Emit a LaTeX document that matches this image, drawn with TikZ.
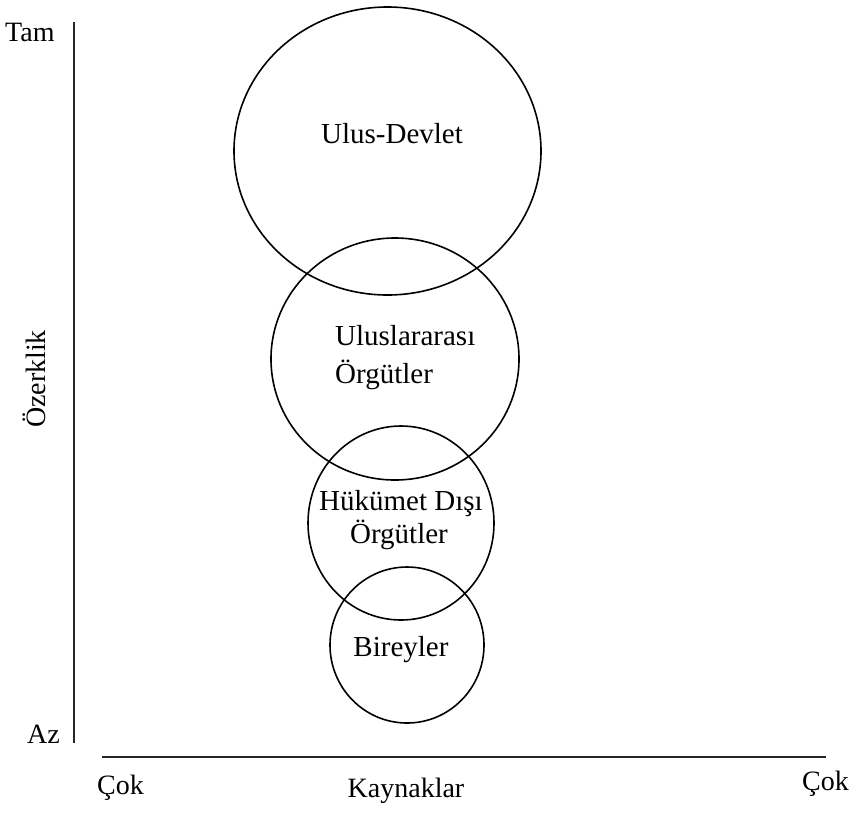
\documentclass[tikz,border=0pt]{standalone}
\usepackage{fontspec}
\setmainfont{Liberation Serif}
\begin{document}
\begin{tikzpicture}[x=1pt,y=-1pt,
  lbl/.style={inner sep=0pt,font=\fontsize{29}{33}\selectfont},
  axl/.style={inner sep=0pt,font=\fontsize{28}{32}\selectfont},
  ring/.style={line width=1.6pt,black},
  axis/.style={line width=2.6pt,black!85}]
\useasboundingbox (0,0) rectangle (856,812);
% circles
\draw[ring] (387.5,151) ellipse [x radius=153.5, y radius=144];
\draw[ring] (395,359) ellipse [x radius=124, y radius=121];
\draw[ring] (401,523) ellipse [x radius=93, y radius=97];
\draw[ring] (407,645) ellipse [x radius=77, y radius=78];
% labels in circles
\node[lbl,anchor=base] (ud) at (392,143) {Ulus-Devlet};
\node[lbl,anchor=base west] (uo1) at (335,345) {Uluslararası};
\node[lbl,anchor=base west] (uo2) at (335,383) {Örgütler};
\node[lbl,anchor=base] (hd1) at (401,510) {Hükümet Dışı};
\node[lbl,anchor=base] (hd2) at (399,543) {Örgütler};
\node[lbl,anchor=base] (bi) at (401,656) {Bireyler};
% axes
\coordinate (vtop) at (74,22);
\coordinate (vbot) at (74,743);
\coordinate (hl) at (102,757);
\coordinate (hr) at (826,757);
\draw[axis] (vtop) -- (vbot);
\draw[axis] (hl) -- (hr);
\node[axl,anchor=base west] (tam) at (5,41) {Tam};
\node[axl,anchor=base west] (az) at (27,743) {Az};
\node[axl,anchor=base,rotate=90] (oz) at (45,379) {Özerklik};
\node[axl,anchor=base west] (cok1) at (97,794) {Çok};
\node[axl,anchor=base west] (cok2) at (802,790) {Çok};
\node[axl,anchor=base] (kay) at (406,797) {Kaynaklar};
\end{tikzpicture}
\end{document}
